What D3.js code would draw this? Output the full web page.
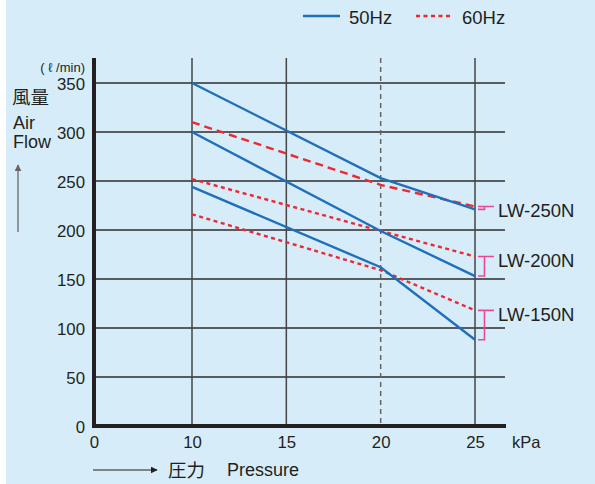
<!DOCTYPE html>
<html>
<head>
<meta charset="utf-8">
<script src="https://cdn.jsdelivr.net/npm/d3@7"></script>
<style>
  body { margin: 0; background: #fff; }
  svg text { font-family: "Liberation Sans", Arial, sans-serif; fill: #231f20; }
  .cjk { font-family: "Noto Sans CJK JP", sans-serif; }
</style>
</head>
<body>
<div id="chart"></div>
<script>
// pressure points (kPa) where the curves are read
const kpa = [10, 20, 25];
// air flow (l/min), 50Hz solid / 60Hz dashed
const lw250_50 = [350, 253, 221];
const lw250_60 = [310, 246, 224];
const lw200_50 = [300, 199, 153];
const lw200_60 = [252, 199, 173];
const lw150_50 = [244, 162, 88];
const lw150_60 = [216, 159, 118];
const models = ['LW-250N', 'LW-200N', 'LW-150N'];
const xTicks = [0, 10, 15, 20, 25];
const yTicks = [0, 50, 100, 150, 200, 250, 300, 350];

const width = 595, height = 484;
const blue = '#1f6fbb', red = '#ec2833', pink = '#e84a9b';

const svg = d3.select('#chart').append('svg')
    .attr('width', width)
    .attr('height', height);

svg.append('rect')
    .attr('x', 6).attr('y', 0)
    .attr('width', width - 6).attr('height', height)
    .attr('fill', '#d6edf9');

// 0-10 kPa is squeezed on the original, so piecewise scale
const x = d3.scaleLinear().domain([0, 10, 25]).range([94, 192, 475]);
const y = d3.scaleLinear().domain([0, 350]).range([426, 83]);
const xEnd = 506, yTop = 58;

// horizontal grid
svg.append('g').selectAll('line')
    .data(yTicks.filter(d => d > 0))
    .join('line')
    .attr('x1', x(0)).attr('x2', xEnd - 1)
    .attr('y1', d => y(d)).attr('y2', d => y(d))
    .attr('stroke', '#2b2b2b').attr('stroke-width', 1.3);

// vertical grid
svg.append('g').selectAll('line')
    .data(xTicks.filter(d => d > 0))
    .join('line')
    .attr('x1', d => x(d)).attr('x2', d => x(d))
    .attr('y1', yTop).attr('y2', y(0))
    .attr('stroke', d => d === 20 ? '#666' : '#444')
    .attr('stroke-width', 1.5)
    .attr('stroke-dasharray', d => d === 20 ? '5,4' : null);

// axes (thick black)
svg.append('line')
    .attr('x1', x(0)).attr('x2', x(0))
    .attr('y1', yTop).attr('y2', y(0) + 2)
    .attr('stroke', '#231f20').attr('stroke-width', 4);
svg.append('line')
    .attr('x1', x(0) - 2).attr('x2', xEnd)
    .attr('y1', y(0)).attr('y2', y(0))
    .attr('stroke', '#231f20').attr('stroke-width', 4);

const yAxis = svg.append('g')
    .attr('transform', `translate(${x(0) - 9},0)`)
    .call(d3.axisLeft(y).tickValues(yTicks).tickSize(0).tickPadding(0));
yAxis.select('.domain').remove();
yAxis.selectAll('text')
    .attr('font-size', 16.8).attr('dy', '0.36em')
    .attr('font-family', '"Liberation Sans", Arial, sans-serif').attr('fill', '#231f20');

const xAxis = svg.append('g')
    .attr('transform', `translate(0,${y(0)})`)
    .call(d3.axisBottom(x).tickValues(xTicks).tickSize(0).tickPadding(0).tickFormat(d3.format('d')));
xAxis.select('.domain').remove();
xAxis.selectAll('text')
    .attr('font-size', 16.8).attr('y', 16).attr('dy', '0.36em')
    .attr('font-family', '"Liberation Sans", Arial, sans-serif').attr('fill', '#231f20');

// curves
const line = d3.line().x((d, i) => x(kpa[i])).y(d => y(d));
const series = [
    { v: lw250_60, c: red, dash: '8,5' },
    { v: lw200_60, c: red, dash: '4,3.5' },
    { v: lw150_60, c: red, dash: '4,3.5' },
    { v: lw250_50, c: blue, dash: null },
    { v: lw200_50, c: blue, dash: null },
    { v: lw150_50, c: blue, dash: null }
];
svg.append('g').selectAll('path')
    .data(series)
    .join('path')
    .attr('d', d => line(d.v))
    .attr('fill', 'none')
    .attr('stroke', d => d.c)
    .attr('stroke-width', 2.4)
    .attr('stroke-dasharray', d => d.dash);

// model brackets + labels
const ends = [
    [lw250_60[2], lw250_50[2]],
    [lw200_60[2], lw200_50[2]],
    [lw150_60[2], lw150_50[2]]
];
const brk = svg.append('g').attr('stroke', pink).attr('stroke-width', 1.6).attr('fill', 'none');
ends.forEach((e, i) => {
    const t = y(e[0]), b = y(e[1]);
    brk.append('path')
        .attr('d', `M478,${t}H494M484.5,${t}V${b}H478`);
    svg.append('text')
        .attr('x', 498).attr('y', t + 4)
        .attr('dy', '0.36em')
        .attr('font-size', 18.5)
        .text(models[i]);
});

// axis titles
svg.append('text').attr('x', 85).attr('y', 67).attr('dy', '0.36em')
    .attr('text-anchor', 'end').attr('font-size', 13).text('( ℓ /min)');
svg.append('text').attr('class', 'cjk').attr('x', 12).attr('y', 97).attr('dy', '0.36em')
    .attr('font-size', 18.5).text('風量');
svg.append('text').attr('x', 13).attr('y', 123).attr('dy', '0.36em')
    .attr('font-size', 18).text('Air');
svg.append('text').attr('x', 13).attr('y', 142).attr('dy', '0.36em')
    .attr('font-size', 18).text('Flow');
svg.append('text').attr('x', 512).attr('y', 442).attr('dy', '0.36em')
    .attr('font-size', 16.5).text('kPa');
svg.append('text').attr('class', 'cjk').attr('x', 168).attr('y', 470).attr('dy', '0.36em')
    .attr('font-size', 18.5).text('圧力');
svg.append('text').attr('x', 227).attr('y', 470).attr('dy', '0.36em')
    .attr('font-size', 18).text('Pressure');

// arrows
const defs = svg.append('defs');
defs.append('marker').attr('id', 'ahGray')
    .attr('viewBox', '0 0 10 10').attr('refX', 9).attr('refY', 5)
    .attr('markerWidth', 7).attr('markerHeight', 7).attr('markerUnits', 'userSpaceOnUse')
    .attr('orient', 'auto')
    .append('path').attr('d', 'M0,0L10,5L0,10Z').attr('fill', '#666');
defs.append('marker').attr('id', 'ahBlack')
    .attr('viewBox', '0 0 10 10').attr('refX', 9).attr('refY', 5)
    .attr('markerWidth', 7).attr('markerHeight', 7).attr('markerUnits', 'userSpaceOnUse')
    .attr('orient', 'auto')
    .append('path').attr('d', 'M0,0L10,5L0,10Z').attr('fill', '#231f20');
svg.append('line').attr('x1', 18).attr('x2', 18).attr('y1', 232).attr('y2', 165)
    .attr('stroke', '#666').attr('stroke-width', 1.3).attr('marker-end', 'url(#ahGray)');
svg.append('line').attr('x1', 93).attr('x2', 157).attr('y1', 470).attr('y2', 470)
    .attr('stroke', '#231f20').attr('stroke-width', 1.1).attr('marker-end', 'url(#ahBlack)');

// legend
const legend = svg.append('g');
const legItems = [
    { name: '50Hz', c: blue, dash: null, x: 303 },
    { name: '60Hz', c: red, dash: '4,3.5', x: 416 }
];
legItems.forEach(d => {
    legend.append('line')
        .attr('x1', d.x).attr('x2', d.x + 37)
        .attr('y1', 16).attr('y2', 16)
        .attr('stroke', d.c).attr('stroke-width', 2.4)
        .attr('stroke-dasharray', d.dash);
    legend.append('text')
        .attr('x', d.x + 46).attr('y', 17).attr('dy', '0.36em')
        .attr('font-size', 18.5).text(d.name);
});
</script>
</body>
</html>
